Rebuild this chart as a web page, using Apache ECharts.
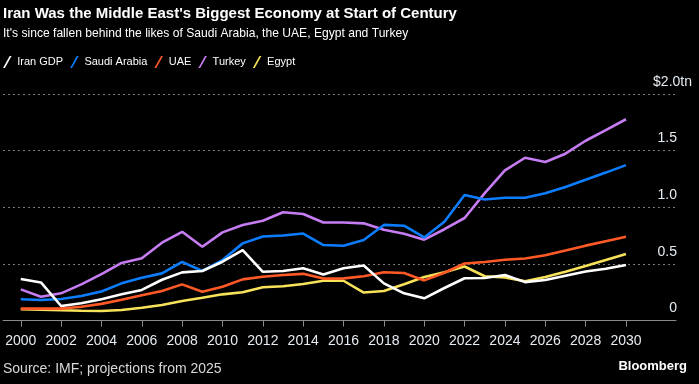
<!DOCTYPE html>
<html>
<head>
<meta charset="utf-8">
<script src="https://cdn.jsdelivr.net/npm/echarts@6/dist/echarts.min.js"></script>
<style>
html,body{margin:0;padding:0;background:#000;}
#chart{width:699px;height:384px;}
</style>
</head>
<body>
<div id="chart"></div>
<script>
const years = [2000,2001,2002,2003,2004,2005,2006,2007,2008,2009,2010,2011,2012,2013,2014,2015,2016,2017,2018,2019,2020,2021,2022,2023,2024,2025,2026,2027,2028,2029,2030];
const iran   = [0.366,0.336,0.128,0.153,0.187,0.231,0.270,0.360,0.425,0.437,0.519,0.622,0.430,0.437,0.461,0.406,0.461,0.486,0.328,0.240,0.196,0.287,0.373,0.375,0.402,0.339,0.357,0.395,0.432,0.457,0.490];
const saudi  = [0.188,0.181,0.190,0.216,0.256,0.328,0.378,0.416,0.518,0.437,0.534,0.681,0.742,0.751,0.768,0.666,0.660,0.711,0.844,0.837,0.733,0.872,1.108,1.068,1.084,1.084,1.123,1.178,1.243,1.306,1.372];
const uae    = [0.105,0.105,0.105,0.122,0.147,0.184,0.223,0.261,0.319,0.254,0.298,0.363,0.387,0.402,0.412,0.370,0.372,0.391,0.426,0.419,0.354,0.422,0.503,0.516,0.536,0.547,0.576,0.618,0.661,0.700,0.739];
const turkey = [0.275,0.210,0.240,0.319,0.410,0.508,0.549,0.687,0.783,0.651,0.778,0.843,0.881,0.956,0.940,0.865,0.865,0.858,0.802,0.766,0.714,0.806,0.905,1.125,1.325,1.437,1.399,1.473,1.587,1.681,1.777];
const egypt  = [0.100,0.096,0.090,0.086,0.084,0.093,0.113,0.137,0.172,0.201,0.231,0.249,0.293,0.303,0.323,0.351,0.351,0.247,0.261,0.320,0.384,0.425,0.477,0.391,0.381,0.346,0.384,0.431,0.482,0.534,0.588];
const seriesNames = ['Iran GDP','Saudi Arabia','UAE','Turkey','Egypt'];
const seriesColors = ['#ffffff','#0d7dff','#ff5a26','#c67cf2','#f7e25a'];
const xTicks = [2000,2002,2004,2006,2008,2010,2012,2014,2016,2018,2020,2022,2024,2026,2028,2030];
const yTicks = [0,0.5,1.0,1.5,2.0];
const yTickLabels = ['0','0.5','1.0','1.5','$2.0'];
const yUnit = 'tn';
const titleText = "Iran Was the Middle East's Biggest Economy at Start of Century";
const subtitleText = "It's since fallen behind the likes of Saudi Arabia, the UAE, Egypt and Turkey";
const sourceText = 'Source: IMF; projections from 2025';
const brandText = 'Bloomberg';

const FONT = '"Liberation Sans", Arial, sans-serif';
const dataSets = [iran, saudi, uae, turkey, egypt];

const chart = echarts.init(document.getElementById('chart'), null, {renderer:'canvas'});
const option = {
  backgroundColor: '#000000',
  animation: false,
  title: [
    {
      text: titleText,
      subtext: subtitleText,
      left: 3, top: 6, padding: 0,
      itemGap: 7,
      textStyle: {color:'#ffffff', fontFamily: FONT, fontSize: 15, fontWeight: 'bold'},
      subtextStyle: {color:'#ffffff', fontFamily: FONT, fontSize: 12.1}
    },
    {
      text: sourceText,
      left: 3, top: 362, padding: 0,
      textStyle: {color:'#d8d8d8', fontFamily: FONT, fontSize: 14, fontWeight: 'normal'}
    },
    {
      text: brandText,
      right: 12, top: 360, padding: 0,
      textStyle: {color:'#ffffff', fontFamily: FONT, fontSize: 13, fontWeight: 'bold'}
    }
  ],
  legend: {
    left: 3, top: 56, padding: 0,
    itemWidth: 10, itemHeight: 12, itemGap: 7,
    icon: 'path://M0,14 L2.2,14 L10,0 L7.8,0 Z',
    textStyle: {color:'#ffffff', fontFamily: FONT, fontSize: 11},
    data: seriesNames
  },
  grid: {left: 3, right: 23, top: 94, bottom: 63.5, containLabel: false},
  xAxis: {
    type: 'value',
    min: 1999.12, max: 2032.48,
    axisLine: {show:true, lineStyle:{color:'#8a8a8a', width:1}},
    axisTick: {show:true, customValues: xTicks, length: 6, lineStyle:{color:'#8a8a8a'}},
    axisLabel: {customValues: xTicks, color:'#e4ecf4', fontFamily: FONT, fontSize: 14, margin: 14, formatter: v => String(v)},
    splitLine: {show:false}
  },
  yAxis: {
    type: 'value',
    position: 'right',
    min: 0, max: 2, interval: 0.5,
    axisLine: {show:false},
    axisTick: {show:false},
    axisLabel: {
      margin: 16,
      align: 'right',
      verticalAlign: 'bottom',
      padding: [0,0,5,0],
      color: '#e4ecf4', fontFamily: FONT, fontSize: 14,
      formatter: function (v) {
        const i = yTicks.findIndex(t => Math.abs(t - v) < 1e-6);
        const lab = i >= 0 ? yTickLabels[i] : String(v);
        if (i === yTicks.length - 1) return '{n|' + lab + '}{u|' + yUnit + '}';
        return '{n|' + lab + '}{s|\u00a0}';
      },
      rich: {
        n: {color:'#e4ecf4', fontFamily: FONT, fontSize: 14},
        u: {color:'#e4ecf4', fontFamily: FONT, fontSize: 14},
        s: {width: 15, fontFamily: FONT, fontSize: 14}
      }
    },
    splitLine: {show:true, lineStyle:{color:'#7a7a7a', type:[2,3], width:1}}
  },
  series: seriesNames.map((name, k) => ({
    name: name,
    type: 'line',
    data: years.map((y, i) => [y, dataSets[k][i]]),
    symbol: 'none',
    color: seriesColors[k],
    lineStyle: {width: 2.6, color: seriesColors[k]},
    z: 10 - k
  }))
};
chart.setOption(option);
</script>
</body>
</html>
